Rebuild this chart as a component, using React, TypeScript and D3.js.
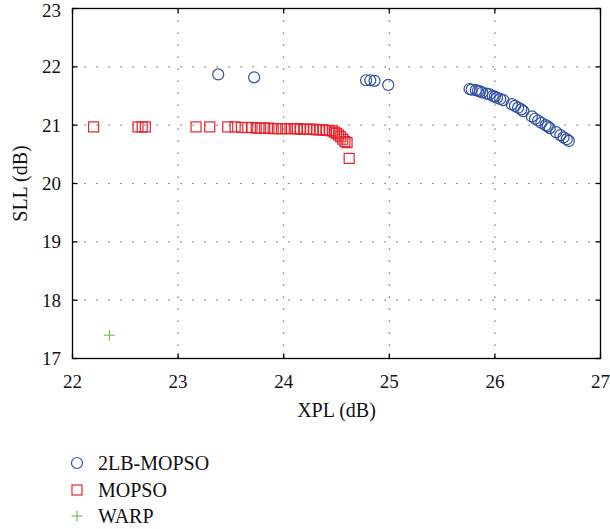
import React from "react";
import * as d3 from "d3";

const xTicks = [22, 23, 24, 25, 26, 27];
const yTicks = [17, 18, 19, 20, 21, 22, 23];

const lbX = [23.38, 23.72, 24.78, 24.82, 24.86, 24.99, 25.76, 25.78, 25.82, 25.84, 25.86, 25.88, 25.92, 25.95, 25.98, 26.0, 26.02, 26.05, 26.08, 26.16, 26.19, 26.22, 26.25, 26.27, 26.35, 26.38, 26.41, 26.44, 26.48, 26.5, 26.52, 26.58, 26.62, 26.65, 26.68, 26.7];
const lbY = [21.87, 21.82, 21.77, 21.77, 21.76, 21.69, 21.62, 21.61, 21.6, 21.59, 21.58, 21.56, 21.54, 21.53, 21.5, 21.49, 21.47, 21.45, 21.43, 21.36, 21.33, 21.3, 21.27, 21.24, 21.15, 21.11, 21.08, 21.04, 21.0, 20.98, 20.95, 20.88, 20.83, 20.79, 20.76, 20.73];

const moX = [22.2, 22.62, 22.66, 22.69, 23.17, 23.3, 23.47, 23.54, 23.6, 23.66, 23.7, 23.74, 23.78, 23.82, 23.86, 23.9, 23.94, 23.98, 24.02, 24.06, 24.1, 24.13, 24.16, 24.19, 24.22, 24.25, 24.28, 24.31, 24.34, 24.37, 24.4, 24.43, 24.46, 24.48, 24.5, 24.52, 24.54, 24.56, 24.58, 24.6, 24.62];
const moY = [20.97, 20.97, 20.97, 20.97, 20.97, 20.97, 20.97, 20.97, 20.96, 20.96, 20.96, 20.95, 20.95, 20.95, 20.95, 20.94, 20.94, 20.94, 20.94, 20.94, 20.94, 20.94, 20.93, 20.93, 20.93, 20.93, 20.93, 20.92, 20.92, 20.92, 20.91, 20.91, 20.9, 20.88, 20.86, 20.83, 20.8, 20.76, 20.72, 20.7, 20.43];

const warpX = [22.35];
const warpY = [17.4];

const seriesNames = ["2LB-MOPSO", "MOPSO", "WARP"];

const BLUE = "#2d4fa3";
const RED = "#e8232b";
const GREEN = "#6cc04a";
const FONT = "'Liberation Serif', 'Times New Roman', serif";

export default function App() {
  const W = 610, H = 529;
  const L = 72.5, R = 600.5, T = 8.5, B = 358.5;
  const x = d3.scaleLinear().domain([22, 27]).range([L, R]);
  const y = d3.scaleLinear().domain([17, 23]).range([B, T]);
  const tickLen = 5;
  const FS = 19;
  const LFS = 20;

  return (
    <svg width={W} height={H} style={{ position: "absolute", left: 0, top: 0, background: "#fff" }}>
      {/* grid */}
      {xTicks.slice(1, -1).map((t) => (
        <line key={"gx" + t} x1={x(t)} x2={x(t)} y1={T} y2={B} stroke="#555" strokeWidth={1.2} strokeDasharray="1.2 10.8" />
      ))}
      {yTicks.slice(1, -1).map((t) => (
        <line key={"gy" + t} x1={L} x2={R} y1={y(t)} y2={y(t)} stroke="#555" strokeWidth={1.2} strokeDasharray="1.2 10.8" />
      ))}
      {/* MOPSO squares */}
      {moX.map((v, i) => (
        <rect key={"m" + i} x={x(v) - 5} y={y(moY[i]) - 5} width={10} height={10} fill="none" stroke={RED} strokeWidth={1.2} />
      ))}
      {/* 2LB circles */}
      {lbX.map((v, i) => (
        <circle key={"c" + i} cx={x(v)} cy={y(lbY[i])} r={5.5} fill="none" stroke={BLUE} strokeWidth={1.2} />
      ))}
      {/* WARP */}
      {warpX.map((v, i) => (
        <g key={"w" + i} stroke={GREEN} strokeWidth={1.1}>
          <line x1={x(v) - 5.5} x2={x(v) + 5.5} y1={y(warpY[i])} y2={y(warpY[i])} />
          <line x1={x(v)} x2={x(v)} y1={y(warpY[i]) - 5.5} y2={y(warpY[i]) + 5.5} />
        </g>
      ))}
      {/* frame */}
      <rect x={L} y={T} width={R - L} height={B - T} fill="none" stroke="#000" strokeWidth={1.3} />
      {xTicks.map((t) => (
        <g key={"xt" + t}>
          <line x1={x(t)} x2={x(t)} y1={B} y2={B - tickLen} stroke="#000" strokeWidth={1.3} />
          <line x1={x(t)} x2={x(t)} y1={T} y2={T + tickLen} stroke="#000" strokeWidth={1.3} />
          <text x={x(t)} y={388} textAnchor="middle" fontFamily={FONT} fontSize={FS} fill="#111">{t}</text>
        </g>
      ))}
      {yTicks.map((t) => (
        <g key={"yt" + t}>
          <line x1={L} x2={L + tickLen} y1={y(t)} y2={y(t)} stroke="#000" strokeWidth={1.3} />
          <line x1={R} x2={R - tickLen} y1={y(t)} y2={y(t)} stroke="#000" strokeWidth={1.3} />
          <text x={61} y={Math.max(y(t) + 6.5, 16.5)} textAnchor="end" fontFamily={FONT} fontSize={FS} fill="#111">{t}</text>
        </g>
      ))}
      <text x={(L + R) / 2} y={417} textAnchor="middle" fontFamily={FONT} fontSize={LFS} fill="#111">XPL (dB)</text>
      <text transform={`translate(27, ${(T + B) / 2}) rotate(-90)`} textAnchor="middle" fontFamily={FONT} fontSize={LFS} fill="#111">SLL (dB)</text>
      {/* legend */}
      <circle cx={77} cy={463} r={5.5} fill="none" stroke={BLUE} strokeWidth={1.2} />
      <text x={98} y={470} fontFamily={FONT} fontSize={LFS} fill="#111">{seriesNames[0]}</text>
      <rect x={72} y={485} width={10} height={10} fill="none" stroke={RED} strokeWidth={1.2} />
      <text x={98} y={497} fontFamily={FONT} fontSize={LFS} fill="#111">{seriesNames[1]}</text>
      <g stroke={GREEN} strokeWidth={1.1}>
        <line x1={71.5} x2={82.5} y1={516} y2={516} />
        <line x1={77} x2={77} y1={510.5} y2={521.5} />
      </g>
      <text x={98} y={523} fontFamily={FONT} fontSize={LFS} fill="#111">{seriesNames[2]}</text>
    </svg>
  );
}
